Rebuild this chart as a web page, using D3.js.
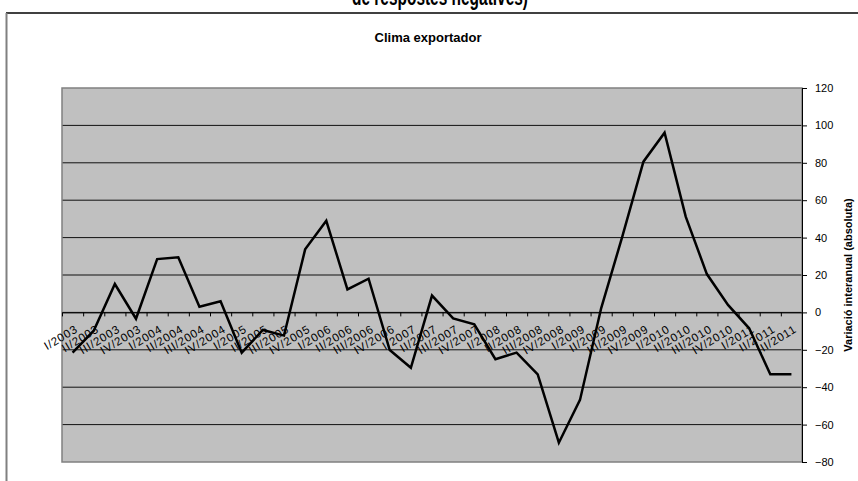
<!DOCTYPE html>
<html>
<head>
<meta charset="utf-8">
<script src="https://cdn.jsdelivr.net/npm/d3@7/dist/d3.min.js"></script>
<style>
  html, body { margin: 0; padding: 0; background: #fff; }
  svg { display: block; }
  text { font-family: Arial, "Liberation Sans", sans-serif; }
</style>
</head>
<body>
<svg id="chart" width="858" height="481"></svg>
<script>
const pageTitle = "de respostes negatives)";
const chartTitle = "Clima exportador";
const yAxisTitle = "Variació interanual (absoluta)";

const categories = [
  "I/2003","II/2003","III/2003","IV/2003",
  "I/2004","II/2004","III/2004","IV/2004",
  "I/2005","II/2005","III/2005","IV/2005",
  "I/2006","II/2006","III/2006","IV/2006",
  "I/2007","II/2007","III/2007","IV/2007",
  "I/2008","II/2008","III/2008","IV/2008",
  "I/2009","II/2009","III/2009","IV/2009",
  "I/2010","II/2010","III/2010","IV/2010",
  "I/2011","II/2011","III/2011"
];
const values = [
  -21.5, -9.8, 15.2, -3.4,
  28.5, 29.5, 3, 6,
  -21.5, -9.4, -12.4, 33.7,
  49, 12.3, 18, -20.1,
  -29.6, 9, -3.2, -6.4,
  -25, -21.5, -33.1, -69.7,
  -46.8, 2.2, 40.5, 80.6,
  96.1, 51.2, 20.5, 4,
  -8.5, -33.1, -33.1
];
const yTicks = [-80, -60, -40, -20, 0, 20, 40, 60, 80, 100, 120];

const svg = d3.select("#chart");
const plot = { left: 62, right: 802, top: 88, bottom: 462 };

// outer chart frame
svg.append("line").attr("x1", 6).attr("x2", 858).attr("y1", 13).attr("y2", 13)
  .attr("stroke", "#000").attr("stroke-width", 1.5);
svg.append("line").attr("x1", 6.5).attr("x2", 6.5).attr("y1", 13).attr("y2", 481)
  .attr("stroke", "#808080").attr("stroke-width", 2);

// page title (cut off at top, as in the reference)
svg.append("text").attr("x", 440).attr("y", 5).attr("text-anchor", "middle")
  .attr("font-size", 24).attr("font-weight", "bold")
  .attr("textLength", 176).attr("lengthAdjust", "spacingAndGlyphs")
  .text(pageTitle);

// chart title
svg.append("text").attr("x", 428).attr("y", 42).attr("text-anchor", "middle")
  .attr("font-size", 13).attr("font-weight", "bold").text(chartTitle);

const x = d3.scaleBand().domain(categories).range([plot.left, plot.right]).padding(0);
const xIdx = d3.scaleLinear().domain([0, categories.length]).range([plot.left, plot.right]);
const y = d3.scaleLinear().domain([-80, 120]).range([plot.bottom, plot.top]);

// plot background
svg.append("rect").attr("x", plot.left).attr("y", plot.top)
  .attr("width", plot.right - plot.left).attr("height", plot.bottom - plot.top)
  .attr("fill", "#c0c0c0");

// gridlines
svg.append("g").selectAll("line").data(yTicks.filter(v => v !== 120 && v !== -80)).join("line")
  .attr("x1", plot.left).attr("x2", plot.right)
  .attr("y1", d => y(d)).attr("y2", d => y(d))
  .attr("stroke", "#111").attr("stroke-width", 1);

// plot border
svg.append("rect").attr("x", plot.left).attr("y", plot.top)
  .attr("width", plot.right - plot.left).attr("height", plot.bottom - plot.top)
  .attr("fill", "none").attr("stroke", "#808080").attr("stroke-width", 1.5);

// right axis
const yAxis = svg.append("g").attr("transform", `translate(${plot.right},0)`)
  .call(d3.axisRight(y).tickValues(yTicks).tickSize(5).tickSizeOuter(0).tickPadding(8));
yAxis.select(".domain").attr("stroke", "#000");
yAxis.selectAll(".tick line").attr("stroke", "#000");
yAxis.selectAll(".tick text").attr("font-size", 11).attr("fill", "#000")
  .attr("font-family", "Arial, 'Liberation Sans', sans-serif");

// y axis title
svg.append("text")
  .attr("transform", `translate(852, ${(plot.top + plot.bottom) / 2}) rotate(-90)`)
  .attr("text-anchor", "middle").attr("font-size", 11).attr("font-weight", "bold")
  .text(yAxisTitle);

// category axis on zero line: ticks at band boundaries
const xTickAxis = svg.append("g").attr("transform", `translate(0,${y(0)})`)
  .call(d3.axisBottom(xIdx).tickValues(d3.range(categories.length + 1))
    .tickFormat("").tickSize(4).tickSizeOuter(0));
xTickAxis.select(".domain").attr("stroke", "#000");
xTickAxis.selectAll(".tick line").attr("stroke", "#000");

// category labels
const xLab = svg.append("g").attr("transform", `translate(0,${y(0)})`)
  .call(d3.axisBottom(x).tickSize(0).tickPadding(0));
xLab.select(".domain").remove();
xLab.selectAll(".tick text")
  .attr("font-size", 11.5).attr("fill", "#000")
  .attr("letter-spacing", "0.8px")
  .attr("font-family", "Arial, 'Liberation Sans', sans-serif")
  .attr("text-anchor", "end")
  .attr("dy", 0).attr("y", 0)
  .attr("transform", "translate(6,19) rotate(-31)");

// line
const line = d3.line()
  .x((d, i) => x(categories[i]) + x.bandwidth() / 2)
  .y(d => y(d));
svg.append("path").datum(values).attr("d", line)
  .attr("fill", "none").attr("stroke", "#000").attr("stroke-width", 2.5)
  .attr("stroke-linejoin", "miter");
</script>
</body>
</html>
